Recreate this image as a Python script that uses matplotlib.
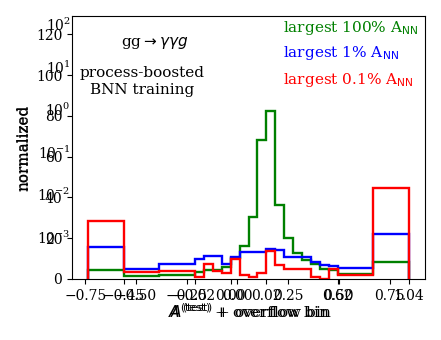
import matplotlib
matplotlib.use("Agg")
import matplotlib.pyplot as plt
from matplotlib.ticker import NullLocator

plt.rcParams['font.family'] = 'DejaVu Serif'
plt.rcParams['font.size'] = 10

# bin edges (overflow bins at both ends)
edges = [-0.737, -0.5611, -0.3852,
         -0.2094, -0.1654, -0.1214, -0.0774, -0.0335, 0.0105, 0.0545, 0.0985,
         0.1424, 0.1864, 0.2304, 0.2743, 0.3183, 0.3623, 0.4062, 0.4502, 0.4942,
         0.6701, 0.8459]

green_vals = [4.6, 1.3, 2.1, 3.4, 4.2, 4.6, 6.1, 10.2, 16.3, 30.3, 68.3,
              82.6, 36.5, 20.1, 12.9, 9.4, 7.2, 4.9, 4.4, 2.3, 8.1]
blue_vals = [15.6, 4.9, 7.3, 9.7, 11.4, 11.4, 7.4, 11.0, 13.0, 13.0, 13.0,
             14.8, 14.0, 10.7, 10.7, 10.7, 8.1, 7.0, 6.3, 5.6, 22.1]
red_vals = [28.3, 3.5, 4.0, 0.8, 7.2, 3.8, 2.8, 9.8, 2.0, 1.0, 3.0,
            13.5, 7.0, 4.8, 4.8, 4.8, 0.9, 0.0, 4.8, 1.8, 44.8]

series = [(green_vals, 'green', r'largest 100% A$_{\rm NN}$'),
          (blue_vals, 'blue', r'largest 1% A$_{\rm NN}$'),
          (red_vals, 'red', r'largest 0.1% A$_{\rm NN}$')]

# ticks of the second (overlaid) axis, placed on bin edges
edge_tick_idx = [1, 3, 7, 11, 19, 21]
edge_tick_labels = ['\u22120.45', '\u22120.02', '0.00', '0.02', '0.62', '1.04']

xlab = r'$A^{(\mathrm{test})}$ + overflow bin'

fig = plt.figure(figsize=(4.41, 3.4), dpi=100)
rect = [72 / 441, 61 / 340, 353 / 441, 263 / 340]
ax = fig.add_axes(rect)

for vals, col, lab in series:
    ax.stairs(vals, edges, color=col, lw=1.7)

ax.set_ylim(0, 129)
ax.set_xticks([-0.75, -0.5, -0.25, 0.0, 0.25, 0.5, 0.75])
ax.set_xlabel(xlab, fontsize=11, labelpad=0)
ax.set_ylabel('normalized', fontsize=11)

# text annotations
ax.text(0.235, 0.898, r'gg$\rightarrow\gamma\gamma g$', transform=ax.transAxes,
        ha='center', va='center', fontsize=11)
ax.text(0.198, 0.751, 'process-boosted\nBNN training', transform=ax.transAxes,
        ha='center', va='center', fontsize=11, multialignment='center')
for (vals, col, lab), ypos in zip(series, [0.954, 0.859, 0.757]):
    ax.text(0.598, ypos, lab, color=col, transform=ax.transAxes,
            ha='left', va='center', fontsize=11)

# second axes drawn on top (log y, edge ticks)
ax2 = fig.add_axes(rect)
ax2.patch.set_visible(False)
for sp in ax2.spines.values():
    sp.set_visible(False)
ax2.set_yscale('log')
ax2.set_ylim(10 ** -3.99, 10 ** 2.19)
ax2.yaxis.set_minor_locator(NullLocator())
ax2.tick_params(axis='y', which='both', length=0, pad=1)
ax2.set_xlim(ax.get_xlim())
ax2.set_xticks([edges[i] for i in edge_tick_idx])
ax2.set_xticklabels(edge_tick_labels)
ax2.set_xlabel(xlab, fontsize=11, labelpad=0)
ax2.set_ylabel('normalized', fontsize=11)
ax2.xaxis.label.set_x(0.506)

fig.savefig('out.png', dpi=100)
